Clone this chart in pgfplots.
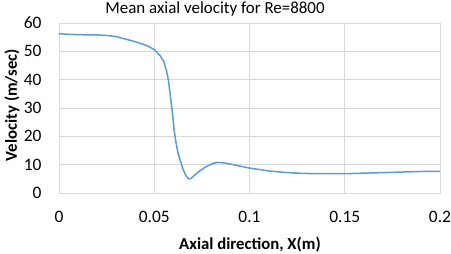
\documentclass[border=0pt]{standalone}
\usepackage{pgfplots}
\pgfplotsset{compat=1.18}
\usepackage{fontspec}
\setmainfont{Carlito}
\definecolor{gridc}{HTML}{D9D9D9}
\definecolor{linec}{HTML}{5B9BD5}
\begin{document}
\begin{tikzpicture}
\begin{axis}[
  scale only axis, width=381bp, height=170bp,
  xmin=0, xmax=0.2, ymin=0, ymax=60,
  xtick={0,0.05,0.1,0.15,0.2},
  xticklabels={0,0.05,0.1,0.15,0.2},
  ytick={0,10,...,60},
  /pgf/number format/assume math mode=true,
  ticklabel style={font=\fontsize{17.5}{20}\selectfont},
  xticklabel style={yshift=-15bp},
  yticklabel style={xshift=-14bp},
  major tick length=0pt,
  grid=major,
  major grid style={draw=gridc, line width=0.9bp},
  axis line style={draw=gridc, line width=0.9bp},
  clip=false,
]
\addplot[linec, line width=1.5bp] coordinates {
(0,56.2) (0.005,56.0) (0.01,55.9) (0.015,55.8) (0.02,55.8) (0.025,55.6)
(0.03,55.2) (0.035,54.3) (0.04,53.4) (0.045,52.3) (0.048,51.4) (0.0505,50.4)
(0.053,48.5) (0.055,46.5) (0.0565,43) (0.0575,39.5) (0.0585,34) (0.0595,28.5)
(0.0605,21.8) (0.0615,17.5) (0.0625,14.0) (0.0635,11.8) (0.065,8.6) (0.0665,6.2)
(0.068,5.0) (0.0695,5.2) (0.071,6.2) (0.074,7.9) (0.0775,9.4) (0.081,10.5)
(0.0836,10.8) (0.087,10.6) (0.09,10.2) (0.095,9.5) (0.1,8.8) (0.105,8.3)
(0.11,7.8) (0.118,7.3) (0.125,7.0) (0.135,6.8) (0.15,6.8) (0.16,7.0)
(0.17,7.2) (0.18,7.4) (0.19,7.6) (0.2,7.6)
};
\end{axis}
\node[font=\fontsize{17}{19}\selectfont, anchor=base] at (156bp,179bp) {Mean axial velocity for Re=8800};
\node[font=\bfseries\fontsize{16.8}{18}\selectfont, rotate=90] at (-47bp,88bp) {Velocity (m/sec)};
\node[font=\bfseries\fontsize{16.8}{18}\selectfont] at (191bp,-52bp) {Axial direction, X(m)};
\pgfresetboundingbox
\path[use as bounding box] (-59bp,-61bp) rectangle (392bp,193bp);
\end{tikzpicture}
\end{document}
